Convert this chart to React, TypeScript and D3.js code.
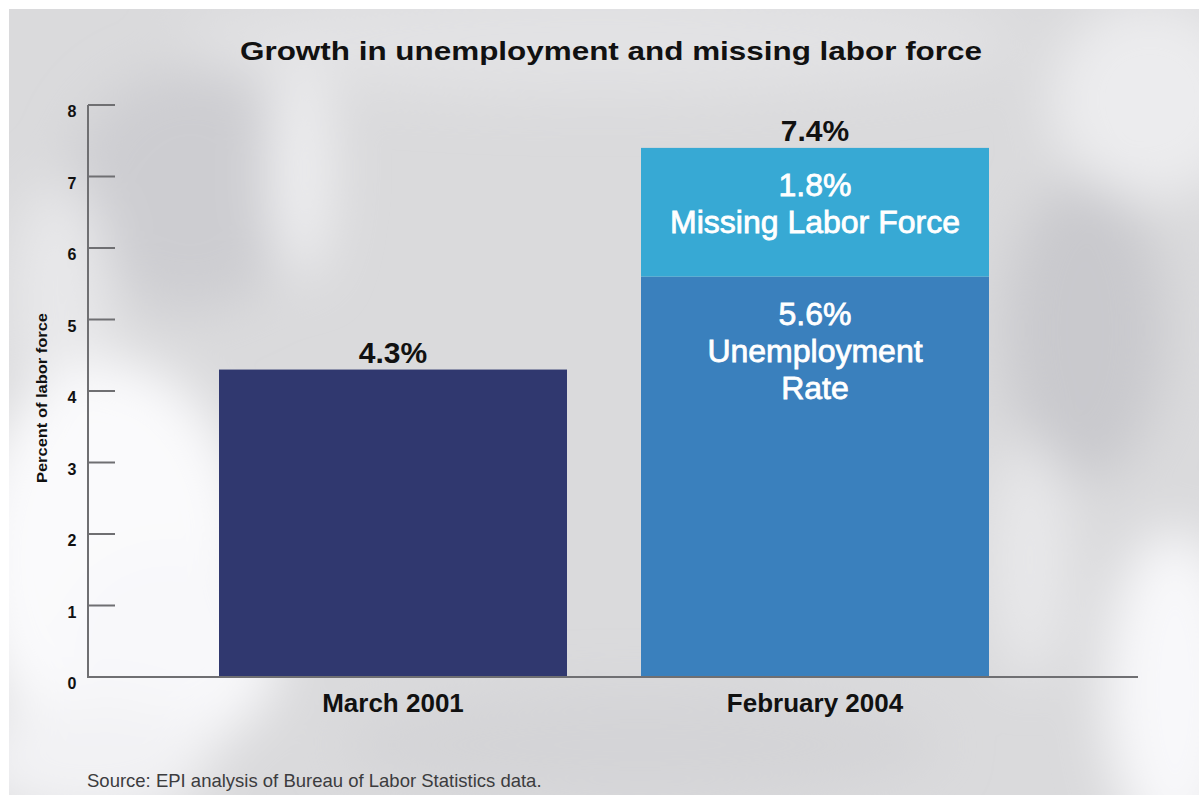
import React from "react";
import * as d3 from "d3";

// ---- data ----
const categories = ["March 2001", "February 2004"];
const unemploymentRate = [4.3, 5.6];
const missingLaborForce = [0, 1.8];
const yTicks = [0, 1, 2, 3, 4, 5, 6, 7, 8];
const unemploymentLines = ["Unemployment", "Rate"];
const missingLines = ["Missing Labor Force"];

const W = 1199;
const H = 795;

// soft photographic backdrop made of blurred patches
const backdrop = [
  { cx: 600, cy: 40, rx: 420, ry: 55, fill: "#e2e2e4" },
  { cx: 190, cy: 190, rx: 120, ry: 120, fill: "#cdcdd1" },
  { cx: 300, cy: 170, rx: 30, ry: 110, fill: "#efeff1" },
  { cx: 60, cy: 300, rx: 50, ry: 120, fill: "#e8e8ea" },
  { cx: 110, cy: 560, rx: 140, ry: 200, fill: "#fafafc" },
  { cx: 170, cy: 650, rx: 110, ry: 100, fill: "#f8f8fa" },
  { cx: 90, cy: 760, rx: 120, ry: 60, fill: "#f2f2f4" },
  { cx: 1085, cy: 330, rx: 80, ry: 150, fill: "#c9c9cd" },
  { cx: 1150, cy: 100, rx: 100, ry: 100, fill: "#ececee" },
  { cx: 1175, cy: 690, rx: 70, ry: 160, fill: "#f8f8fa" },
  { cx: 640, cy: 745, rx: 300, ry: 55, fill: "#d4d4d7" },
  { cx: 1030, cy: 560, rx: 40, ry: 120, fill: "#e8e8ea" },
];

const FONT = "'Liberation Sans', Arial, Helvetica, sans-serif";

export default function App() {
  const y = d3.scaleLinear().domain([0, 8]).range([677, 105]);
  const x = d3
    .scaleBand<string>()
    .domain(categories)
    .range([182, 1026])
    .paddingInner(74 / 422)
    .paddingOuter(37 / 422);

  const rows = categories.map((c, i) => ({
    category: c,
    unemployment: unemploymentRate[i],
    missing: missingLaborForce[i],
  }));
  const stack = d3.stack<any>().keys(["unemployment", "missing"]);
  const series = stack(rows);

  const segColor = (key: string, i: number) => {
    if (key === "missing") return "#37a9d4";
    return i === 0 ? "#30386f" : "#3a80bd";
  };

  const bw = x.bandwidth();
  const axisColor = "#6f6f72";

  return (
    <svg
      width={W}
      height={H}
      style={{ position: "absolute", left: 0, top: 0, display: "block" }}
    >
      <defs>
        <filter id="soft" x="-50%" y="-50%" width="200%" height="200%">
          <feGaussianBlur stdDeviation="26" />
        </filter>
        <clipPath id="panel">
          <rect x={9} y={9} width={W - 9} height={H - 9} />
        </clipPath>
      </defs>
      <rect x={0} y={0} width={W} height={H} fill="#ffffff" />
      <g clipPath="url(#panel)">
        <rect x={9} y={9} width={W} height={H} fill="#dadadc" />
        <g filter="url(#soft)">
          {backdrop.map((b, i) => (
            <ellipse key={i} cx={b.cx} cy={b.cy} rx={b.rx} ry={b.ry} fill={b.fill} />
          ))}
        </g>
      </g>

      {/* title */}
      <text
        x={611}
        y={60}
        textAnchor="middle"
        fontFamily={FONT}
        fontWeight="bold"
        fontSize={26}
        fill="#111"
        textLength={742}
        lengthAdjust="spacingAndGlyphs"
      >
        Growth in unemployment and missing labor force
      </text>

      {/* bars */}
      {series.map((s) =>
        s.map((d, i) => {
          const h = y(d[0]) - y(d[1]);
          if (h <= 0) return null;
          return (
            <rect
              key={s.key + i}
              x={x(categories[i])}
              y={y(d[1])}
              width={bw}
              height={h}
              fill={segColor(s.key, i)}
            />
          );
        })
      )}

      {/* segment labels inside the February bar */}
      {series.map((s) =>
        s.map((d, i) => {
          if (i === 0) return null;
          const value = d[1] - d[0];
          if (value <= 0) return null;
          const top = y(d[1]);
          const cx = (x(categories[i]) as number) + bw / 2;
          const lines = [
            `${d3.format(".1f")(value)}%`,
            ...(s.key === "missing" ? missingLines : unemploymentLines),
          ];
          return lines.map((t, j) => (
            <text
              key={s.key + j}
              x={cx}
              y={top + 48 + j * 37}
              textAnchor="middle"
              fontFamily={FONT}
              fontSize={32}
              fill="#ffffff"
              stroke="#ffffff"
              strokeWidth={0.8}
            >
              {t}
            </text>
          ));
        })
      )}

      {/* totals above bars */}
      {rows.map((r) => {
        const total = r.unemployment + r.missing;
        return (
          <text
            key={r.category}
            x={(x(r.category) as number) + bw / 2}
            y={y(total) - 7}
            textAnchor="middle"
            fontFamily={FONT}
            fontWeight="bold"
            fontSize={30}
            fill="#111"
          >
            {d3.format(".1f")(total)}%
          </text>
        );
      })}

      {/* y axis */}
      <line x1={88} x2={88} y1={y(8)} y2={y(0)} stroke={axisColor} strokeWidth={2} />
      <line x1={87} x2={1138} y1={y(0)} y2={y(0)} stroke={axisColor} strokeWidth={2} />
      {yTicks.map((t) => (
        <g key={t}>
          {t > 0 && (
            <line x1={88} x2={115} y1={y(t)} y2={y(t)} stroke={axisColor} strokeWidth={2} />
          )}
          <text
            x={72}
            y={y(t) + 12}
            textAnchor="middle"
            fontFamily={FONT}
            fontWeight="bold"
            fontSize={16}
            fill="#111"
          >
            {t}
          </text>
        </g>
      ))}
      <text
        transform={`translate(47,398) rotate(-90)`}
        textAnchor="middle"
        fontFamily={FONT}
        fontWeight="bold"
        fontSize={14}
        fill="#111"
        textLength={170}
        lengthAdjust="spacingAndGlyphs"
      >
        Percent of labor force
      </text>

      {/* category labels */}
      {categories.map((c) => (
        <text
          key={c}
          x={(x(c) as number) + bw / 2}
          y={712}
          textAnchor="middle"
          fontFamily={FONT}
          fontWeight="bold"
          fontSize={26}
          fill="#111"
        >
          {c}
        </text>
      ))}

      {/* source note */}
      <text x={87} y={787} fontFamily={FONT} fontSize={18.5} fill="#3c3c3e">
        Source: EPI analysis of Bureau of Labor Statistics data.
      </text>
    </svg>
  );
}
